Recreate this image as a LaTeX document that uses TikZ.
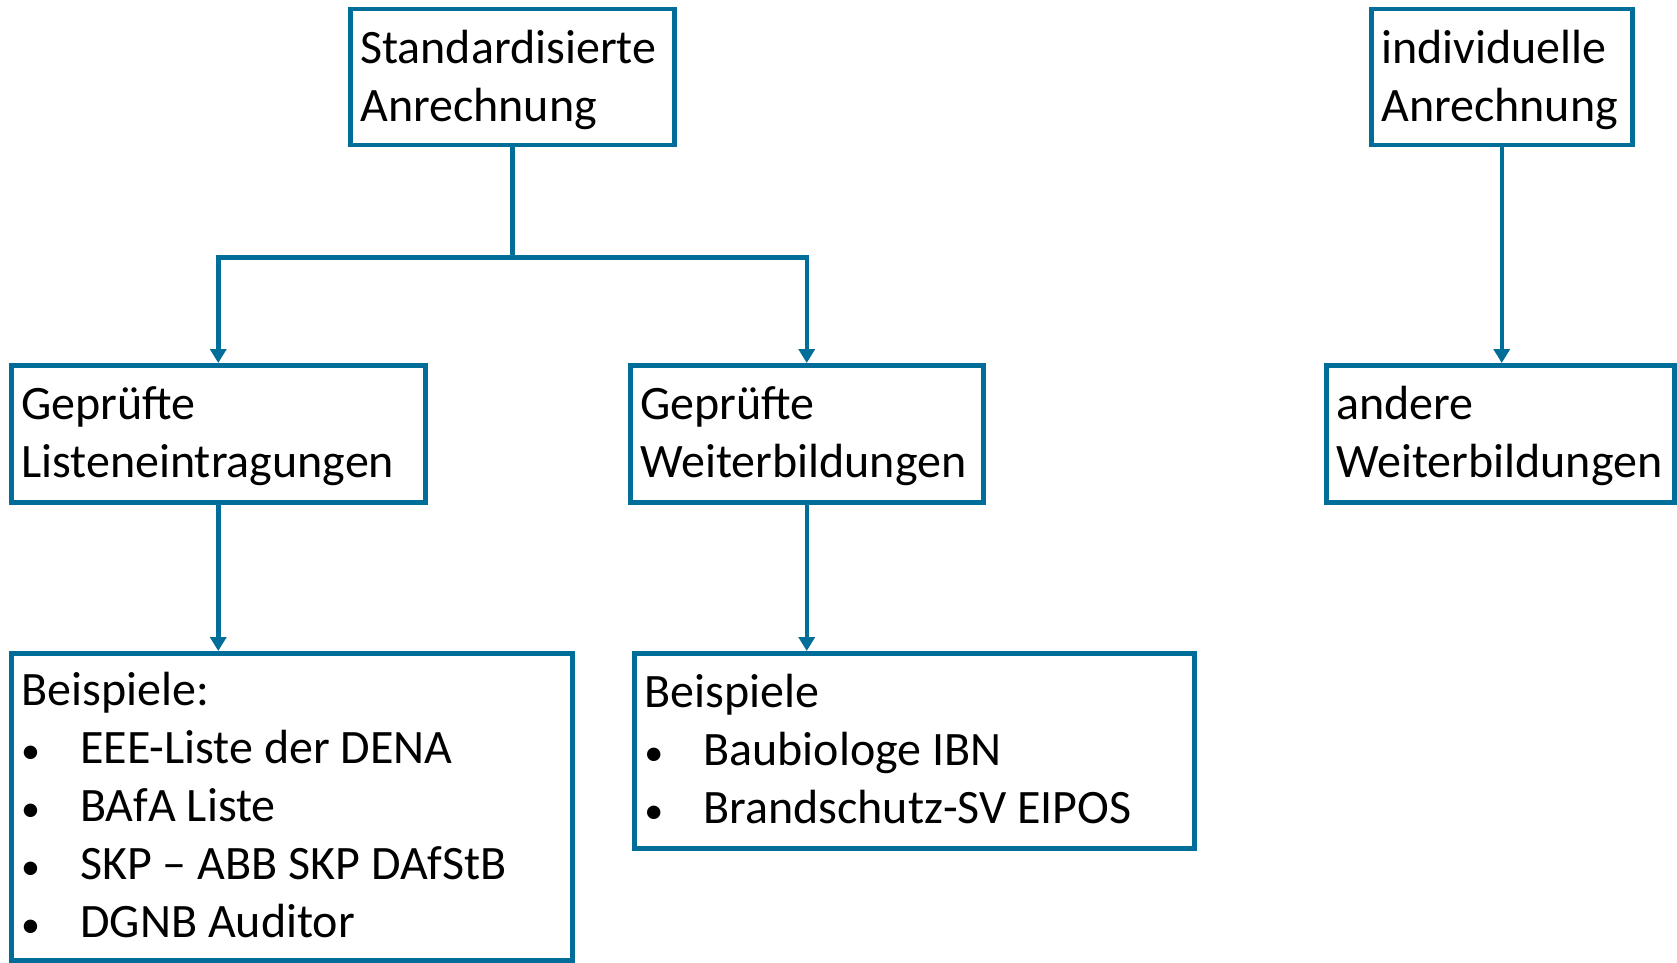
\documentclass[tikz,border=0pt]{standalone}
\usepackage{xcolor}
\usepackage{fontspec}
\setmainfont{Carlito}
\usepackage{tikz}
\usetikzlibrary{shapes, arrows.meta, positioning}
\definecolor{petrol}{RGB}{0,110,152}
\newcommand{\bul}{\makebox[29.5pt][l]{\fontsize{19}{19}\selectfont •}}

\begin{document}
\begin{tikzpicture}[x=0.5pt, y=-0.5pt,
    box/.style={draw=petrol, rectangle, line width=2.25pt, anchor=north west, align=flush left,
        inner xsep=5pt, inner ysep=0pt, text height=23.8pt, font=\fontsize{24}{29}\selectfont},
    arr/.style={draw=petrol, line width=2.25pt, -{Triangle[length=7pt, width=8pt]}}]
            \useasboundingbox (0,0) rectangle (1677,963);
            % obere Ebene
            \node[box, text width=152pt, minimum height=68pt] (std) at (348,7) {
                \begin{tabular}[t]{@{}l@{}}
                    Standardisierte \\
                    Anrechnung
                \end{tabular}
            };
            \node[box, text width=120.5pt, minimum height=68pt] (ind) at (1369,7) {
                \begin{tabular}[t]{@{}l@{}}
                    individuelle \\
                    Anrechnung
                \end{tabular}
            };
            % mittlere Ebene
            \node[box, text width=197pt, minimum height=68.5pt] (gl) at (9,363) {
                \begin{tabular}[t]{@{}l@{}}
                    Geprüfte \\
                    Listeneintragungen
                \end{tabular}
            };
            \node[box, text width=166.5pt, minimum height=68.5pt] (gw) at (628,363) {
                \begin{tabular}[t]{@{}l@{}}
                    Geprüfte \\
                    Weiterbildungen
                \end{tabular}
            };
            \node[box, text width=164pt, minimum height=68.5pt] (aw) at (1324,363) {
                \begin{tabular}[t]{@{}l@{}}
                    andere \\
                    Weiterbildungen
                \end{tabular}
            };
            % Beispiele
            \node[box, text width=270.5pt, minimum height=153.5pt] (bl) at (9,651) {
                \begin{tabular}[t]{@{}l@{}}
                    Beispiele: \\
                    \bul EEE-Liste der DENA \\
                    \bul BAfA Liste \\
                    \bul SKP – ABB SKP DAfStB \\
                    \bul DGNB Auditor
                \end{tabular}
            };
            \node[box, text width=270pt, minimum height=97.5pt] (bw) at (632,651) {
                \begin{tabular}[t]{@{}l@{}}
                    Beispiele \\
                    \bul Baubiologe IBN \\
                    \bul Brandschutz-SV EIPOS
                \end{tabular}
            };
            % Verbindungen
            \draw[draw=petrol, line width=2.25pt] (std.south) -- ++(0,110) coordinate (split);
            \draw[arr] (split) -| (gl.north);
            \draw[arr] (split) -| (gw.north);
            \draw[arr] (ind.south) -- (ind.south |- aw.north);
            \draw[arr] (gl.south) -- (gl.south |- bl.north);
            \draw[arr] (gw.south) -- (gw.south |- bw.north);
\end{tikzpicture}
\end{document}
